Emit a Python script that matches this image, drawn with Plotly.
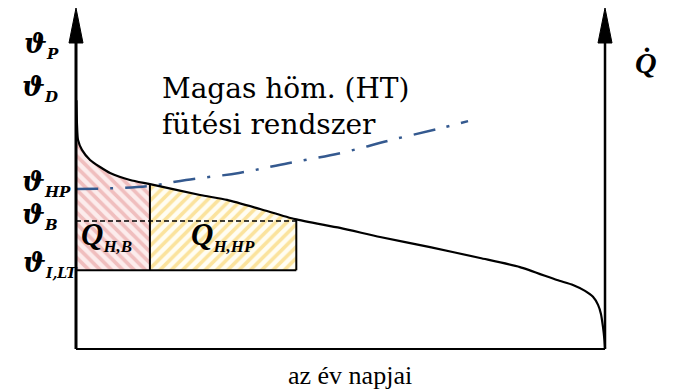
import numpy as np
import plotly.graph_objects as go

# Heat demand duration curve: supply temperature vs. days of the year
days = [0.3, 0.7, 1.4, 4.1, 9.7, 16.6, 23.5, 37.3, 51.1, 85.6, 104.2, 127.0,
        151.1, 182.2, 209.8, 244.3, 278.8, 306.3, 331.9, 342.9, 351.2, 356.7,
        360.2, 362.2, 363.6, 364.6, 365.0]
temp = [71.1, 64.0, 59.7, 56.9, 54.0, 52.0, 50.3, 48.3, 47.1, 44.0, 42.6, 40.0,
        37.1, 34.6, 32.0, 29.1, 26.0, 23.4, 19.7, 18.3, 16.6, 14.9,
        12.6, 10.0, 6.3, 2.6, 0.3]

# High-temperature (HT) heating system supply line
ht_days = [0, 30.4, 51.1, 75.9, 112.5, 146.3, 182.8, 217.3, 251.8, 270.5]
ht_temp = [45.7, 46.0, 46.6, 48.3, 50.3, 53.1, 56.0, 59.7, 63.1, 65.1]

# Characteristic levels and split days
t_ilt = 22.5      # ϑ_I,LT
t_b = 36.6        # ϑ_B
day_b = 51.0      # end of boiler share
day_hp = 152.0    # end of heat-pump share
year_end = 365.0

x_range = [-52.44, 412.6]
y_range = [-11.714, 99.714]
px_x = 529 / 365.0   # pixels per day
px_y = 3.5           # pixels per unit

def curve_at(d):
    return float(np.interp(d, days, temp))

def area(d0, d1):
    sel = [(d, t) for d, t in zip(days, temp) if d0 < d < d1]
    xs = [d0] + [d for d, _ in sel] + [d1, d1, d0, d0]
    ys = [curve_at(d0)] + [t for _, t in sel] + [curve_at(d1), t_ilt, t_ilt, curve_at(d0)]
    return xs, ys

fig = go.Figure()

# Boiler share Q_H,B (red hatch)
xb, yb = area(0.0, day_b)
fig.add_trace(go.Scatter(
    x=xb, y=yb, mode="lines", fill="toself", line=dict(width=0),
    fillcolor="rgba(0,0,0,0)",
    fillpattern=dict(shape="\\", fgcolor="#e39090", bgcolor="#fcecec",
                     size=8, solidity=0.45),
    hoverinfo="skip", showlegend=False))

# Heat-pump share Q_H,HP (yellow hatch)
xh, yh = area(day_b, day_hp)
fig.add_trace(go.Scatter(
    x=xh, y=yh, mode="lines", fill="toself", line=dict(width=0),
    fillcolor="rgba(0,0,0,0)",
    fillpattern=dict(shape="/", fgcolor="#f7c948", bgcolor="#fffdf3",
                     size=8, solidity=0.45),
    hoverinfo="skip", showlegend=False))

# ϑ_B dashed level
fig.add_trace(go.Scatter(
    x=[0, day_hp], y=[t_b, t_b], mode="lines",
    line=dict(color="black", width=1.5, dash="5px,3px"),
    hoverinfo="skip", showlegend=False))

# Share boundaries
fig.add_trace(go.Scatter(
    x=[day_b, day_b, None, day_hp, day_hp, None, 0, day_hp],
    y=[t_ilt, curve_at(day_b), None, t_ilt, curve_at(day_hp), None, t_ilt, t_ilt],
    mode="lines", line=dict(color="black", width=2),
    hoverinfo="skip", showlegend=False))

# HT system line
fig.add_trace(go.Scatter(
    x=ht_days, y=ht_temp, mode="lines",
    line=dict(color="#34598f", width=2.5, dash="22px,12px,3px,12px", shape="spline"),
    hoverinfo="skip", showlegend=False))

# Duration curve
fig.add_trace(go.Scatter(
    x=days, y=temp, mode="lines",
    line=dict(color="black", width=2.2, shape="spline", smoothing=0.6),
    hoverinfo="skip", showlegend=False))

# Axes with arrowheads
y_top = (349 - 8) / px_y
head_len = 35 / px_y
head_hw = 7 / px_x
fig.add_trace(go.Scatter(x=[0, 0], y=[0, y_top - head_len], mode="lines",
                         line=dict(color="black", width=3),
                         hoverinfo="skip", showlegend=False))
fig.add_trace(go.Scatter(x=[year_end, year_end], y=[0, y_top - head_len], mode="lines",
                         line=dict(color="black", width=2.5),
                         hoverinfo="skip", showlegend=False))
fig.add_trace(go.Scatter(x=[0, year_end], y=[0, 0], mode="lines",
                         line=dict(color="black", width=2),
                         hoverinfo="skip", showlegend=False))
for xa in (0, year_end):
    fig.add_shape(type="path",
                  path=f"M {xa - head_hw} {y_top - head_len} L {xa} {y_top} "
                       f"L {xa + head_hw} {y_top - head_len} Z",
                  fillcolor="black", line=dict(color="black", width=1))

serif = "Liberation Serif"
sym_font = "DejaVu Serif"

def label(text, x, y, xanchor="left", yanchor="middle", size=27, xshift=0, yshift=0,
          family=sym_font):
    fig.add_annotation(x=x, y=y, xref="x", yref="y", text=text, showarrow=False,
                       xanchor=xanchor, yanchor=yanchor, xshift=xshift, yshift=yshift,
                       font=dict(family=family, size=size, color="black"))

def sym(main, sub, sub_px):
    return (f"<b><i>{main}</i></b><sub><span style='font-size:{sub_px}px'>"
            f"<b><i>{sub}</i></b></span></sub>")

# Temperature symbols on the left
label(sym("ϑ", "P", 15), -54 / px_x, (349 - 45) / px_y, size=27)
label(sym("ϑ", "D", 15), -56 / px_x, (349 - 88) / px_y, size=27)
label(sym("ϑ", "HP", 15), -56 / px_x, ht_temp[0], yshift=6, size=27)
label(sym("ϑ", "B", 15), -56 / px_x, t_b, yshift=4, size=27)
label(sym("ϑ", "I,LT", 14), -55 / px_x, t_ilt, yshift=6, size=27)

# Heat flow symbol on the right axis
label("<b><i>Q̇</i></b>", year_end + 28 / px_x, (349 - 62) / px_y, size=30, family=serif)

# Area labels
label(sym("Q", "H,B", 17), 3 / px_x, t_ilt, yanchor="bottom",
      size=31, yshift=12, family=serif)
label(sym("Q", "H,HP", 17), (day_b + day_hp) / 2, t_ilt,
      xanchor="center", yanchor="bottom", size=31, yshift=12, family=serif)

# HT system caption
fig.add_annotation(x=84 / px_x, y=(349 - 70) / px_y, xref="x", yref="y",
                   text="Magas höm. (HT)<br>fütési rendszer", showarrow=False,
                   xanchor="left", yanchor="top", align="left",
                   font=dict(family="DejaVu Serif", size=28, color="black"))

# Horizontal axis caption
fig.add_annotation(x=(350 - 76) / px_x, y=0,
                   xref="x", yref="y", text="az év napjai", showarrow=False,
                   xanchor="center", yanchor="top", yshift=-10,
                   font=dict(family=serif, size=26, color="black"))

fig.update_layout(
    width=674, height=390, margin=dict(l=0, r=0, t=0, b=0),
    paper_bgcolor="white", plot_bgcolor="white",
    xaxis=dict(range=x_range, visible=False, fixedrange=True),
    yaxis=dict(range=y_range, visible=False, fixedrange=True),
    showlegend=False)

fig.write_html("out.html")
